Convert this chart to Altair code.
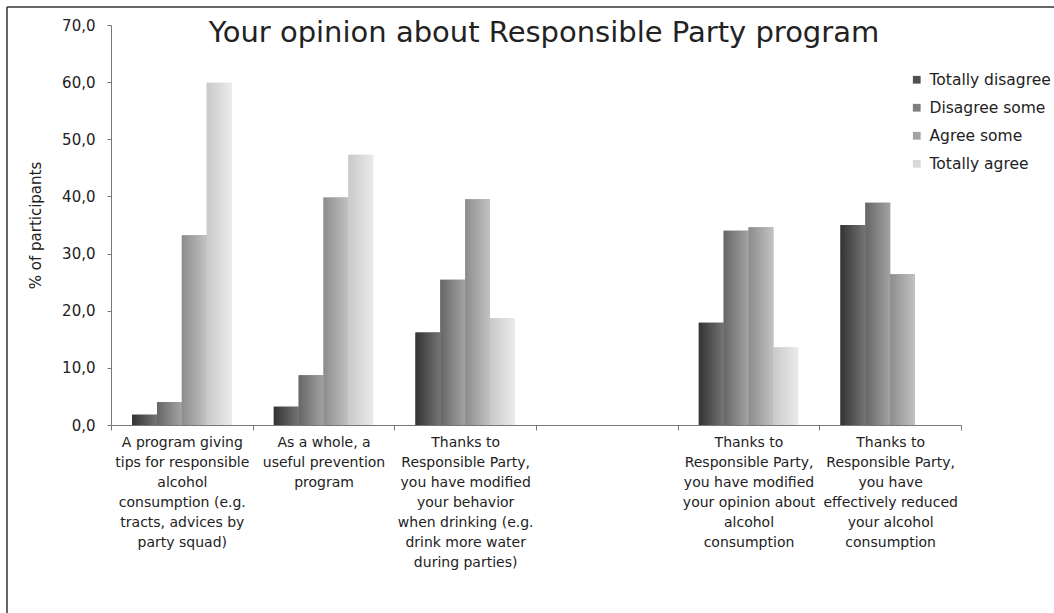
import altair as alt
import pandas as pd

# Survey statements (line breaks mark how each axis label wraps); slot 4 is left empty
statements = [
    "A program giving\ntips for responsible\nalcohol\nconsumption (e.g.\ntracts, advices by\nparty squad)",
    "As a whole, a\nuseful prevention\nprogram",
    "Thanks to\nResponsible Party,\nyou have modified\nyour behavior\nwhen drinking (e.g.\ndrink more water\nduring parties)",
    " ",
    "Thanks to\nResponsible Party,\nyou have modified\nyour opinion about\nalcohol\nconsumption",
    "Thanks to\nResponsible Party,\nyou have\neffectively reduced\nyour alcohol\nconsumption",
]
answers = ["Totally disagree", "Disagree some", "Agree some", "Totally agree"]

# % of participants per answer, one list per statement that has data
pct_tips = [1.8, 4.0, 33.2, 59.9]
pct_useful = [3.2, 8.7, 39.8, 47.3]
pct_behavior = [16.2, 25.4, 39.5, 18.7]
pct_opinion = [17.9, 34.0, 34.6, 13.6]
pct_reduced = [35.0, 38.9, 26.4, 0.0]

y_ticks = [0, 10, 20, 30, 40, 50, 60, 70]
grays = ["#505050", "#7f7f7f", "#a3a3a3", "#d9d9d9"]
# left-to-right shading of each answer's bars
shade_left = ["#333333", "#666666", "#8c8c8c", "#c9c9c9"]
shade_right = ["#747474", "#a3a3a3", "#c2c2c2", "#ebebeb"]

rows = []
for stmt, vals in zip(
    [statements[0], statements[1], statements[2], statements[4], statements[5]],
    [pct_tips, pct_useful, pct_behavior, pct_opinion, pct_reduced],
):
    for ans, v in zip(answers, vals):
        rows.append({"statement": stmt, "answer": ans, "pct": v})
df = pd.DataFrame(rows)

W, H = 850, 400

x_enc = alt.X(
    "statement:N",
    sort=statements,
    scale=alt.Scale(domain=statements, paddingInner=0, paddingOuter=0),
    axis=alt.Axis(
        title=None,
        labelAngle=0,
        tickBand="extent",
        tickSize=5,
        labelPadding=5,
        labelExpr="split(datum.label, '\\n')",
        labelLineHeight=20,
        labelFont="DejaVu Sans",
        labelFontSize=14,
        labelColor="#222222",
        labelLimit=200,
        domainColor="#777777",
        tickColor="#777777",
    ),
)
xoff_enc = alt.XOffset(
    "answer:N",
    sort=answers,
    scale=alt.Scale(domain=answers, paddingInner=0, paddingOuter=0.85),
)
y_enc = alt.Y(
    "pct:Q",
    scale=alt.Scale(domain=[0, 70], nice=False),
    axis=alt.Axis(
        title="% of participants",
        values=y_ticks,
        labelExpr="replace(format(datum.value, '.1f'), '.', ',')",
        grid=False,
        tickSize=4,
        labelPadding=12,
        labelFont="DejaVu Sans",
        labelFontSize=15,
        labelColor="#222222",
        titleFont="DejaVu Sans",
        titleFontSize=15,
        titleFontWeight="normal",
        titleColor="#222222",
        titlePadding=18,
        domainColor="#777777",
        tickColor="#777777",
    ),
)

# flat-colour bars carry the legend
bars = alt.Chart(df).mark_bar().encode(
    x=x_enc,
    xOffset=xoff_enc,
    y=y_enc,
    color=alt.Color(
        "answer:N",
        sort=answers,
        scale=alt.Scale(domain=answers, range=grays),
        legend=alt.Legend(
            title=None,
            orient="none",
            legendX=798,
            legendY=47,
            symbolType="square",
            symbolSize=60,
            symbolStrokeWidth=0,
            labelFont="DejaVu Sans",
            labelFontSize=15.5,
            labelColor="#222222",
            rowPadding=11,
            labelOffset=5,
        ),
    ),
)

# shaded overlay for each answer
shaded = []
for ans, c0, c1 in zip(answers, shade_left, shade_right):
    grad = alt.LinearGradient(
        gradient="linear",
        stops=[alt.GradientStop(color=c0, offset=0), alt.GradientStop(color=c1, offset=1)],
        x1=0, x2=1, y1=0, y2=0,
    )
    shaded.append(
        alt.Chart(df)
        .transform_filter(alt.datum.answer == ans)
        .mark_bar(color=grad)
        .encode(x=x_enc, xOffset=xoff_enc, y=y_enc)
    )

# outer frame of the chart (left and top edges)
frame_left = alt.Chart().mark_rule(color="#333333", strokeWidth=1.5).encode(
    x=alt.value(-104), x2=alt.value(-104), y=alt.value(-18), y2=alt.value(H + 190)
)
frame_top = alt.Chart().mark_rule(color="#333333", strokeWidth=1.5).encode(
    x=alt.value(-104), x2=alt.value(W + 100), y=alt.value(-18), y2=alt.value(-18)
)

chart = (
    alt.layer(bars, *shaded, frame_left, frame_top)
    .properties(
        width=W,
        height=H,
        title=alt.TitleParams(
            "Your opinion about Responsible Party program",
            font="DejaVu Sans",
            fontSize=29,
            fontWeight="normal",
            color="#222222",
            anchor="middle",
            frame="group",
            baseline="alphabetic",
            dx=8,
            offset=-65,
        ),
        autosize=alt.AutoSizeParams(type="none"),
        padding={"left": 111, "top": 25, "right": 1054 - 111 - W, "bottom": 613 - 25 - H},
    )
    .configure(background="white", view=alt.ViewConfig(stroke="transparent", strokeWidth=0))
)

chart.save("out.html", embed_options={"renderer": "svg", "actions": False})
